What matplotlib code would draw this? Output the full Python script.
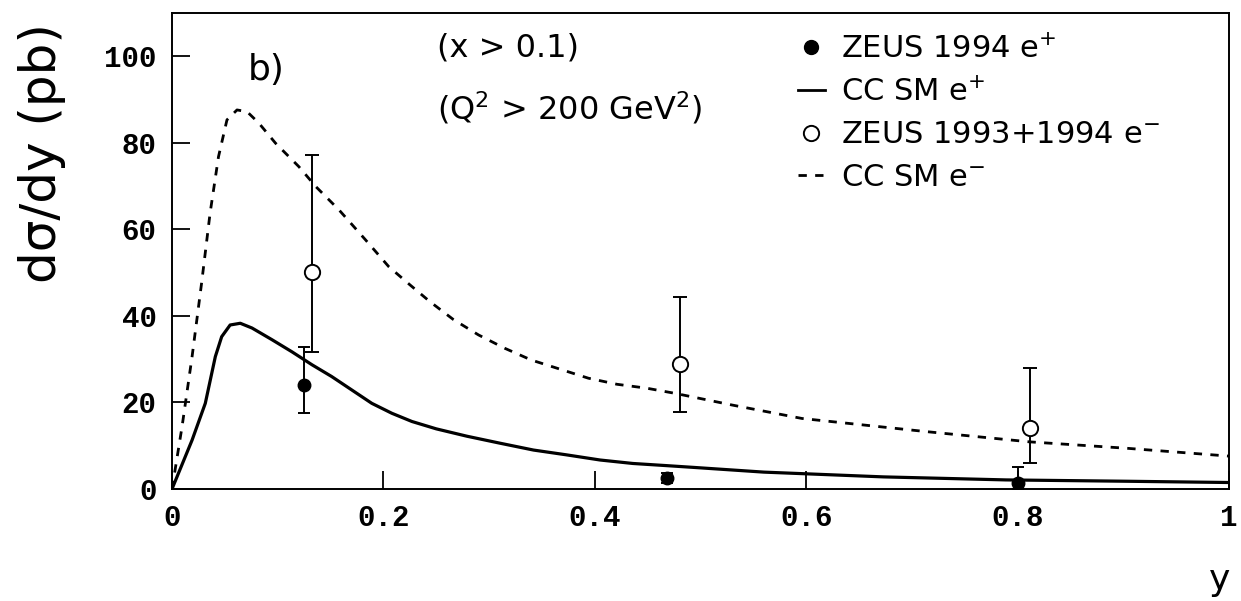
import matplotlib
matplotlib.use("Agg")
import matplotlib.pyplot as plt
from matplotlib.lines import Line2D

# SM curves
sm_pos_y = [0.0, 0.019, 0.0315, 0.041, 0.047, 0.055, 0.0646, 0.0757, 0.0946, 0.1135, 0.1325,
            0.151, 0.170, 0.189, 0.208, 0.227, 0.250, 0.279, 0.310, 0.342, 0.373, 0.405, 0.436,
            0.468, 0.493, 0.560, 0.673, 0.789, 0.90, 1.0]
sm_pos_v = [0.0, 11.3, 19.8, 30.6, 35.2, 37.9, 38.3, 37.2, 34.5, 31.7, 28.7,
            26.0, 22.9, 19.8, 17.5, 15.6, 13.9, 12.2, 10.6, 9.0, 7.9, 6.7, 5.9,
            5.4, 5.0, 3.9, 2.8, 2.1, 1.8, 1.5]

sm_neg_y = [0.0, 0.0095, 0.019, 0.028, 0.036, 0.044, 0.052, 0.0615, 0.071, 0.082, 0.098,
            0.120, 0.136, 0.158, 0.183, 0.205, 0.225, 0.244, 0.266, 0.290, 0.315, 0.340,
            0.367, 0.394, 0.421, 0.449, 0.476, 0.530, 0.596, 0.712, 0.811, 0.904, 1.0]
sm_neg_v = [0.0, 14.4, 30.6, 47.6, 63.7, 76.8, 85.3, 87.6, 87.2, 84.6, 79.9,
            74.5, 69.9, 64.5, 57.6, 51.4, 47.2, 43.3, 39.2, 35.6, 32.5, 29.8,
            27.7, 25.6, 24.2, 23.3, 22.1, 19.4, 16.3, 13.3, 10.9, 9.4, 7.6]

# ZEUS 1994 e+ data
pos_y = [0.125, 0.468, 0.80]
pos_v = [24.0, 2.6, 1.5]
pos_err_lo = [6.5, 1.2, 1.5]
pos_err_hi = [8.9, 1.2, 3.5]

# ZEUS 1993+1994 e- data
neg_y = [0.1325, 0.481, 0.812]
neg_v = [50.2, 28.9, 14.2]
neg_err_lo = [18.5, 11.2, 8.2]
neg_err_hi = [26.9, 15.4, 13.8]

xticks = [0, 0.2, 0.4, 0.6, 0.8, 1.0]
xticklabels = ["0", "0.2", "0.4", "0.6", "0.8", "1"]
yticks = [0, 20, 40, 60, 80, 100]
yticklabels = ["0", "20", "40", "60", "80", "100"]

fig = plt.figure(figsize=(12.41, 6.01), dpi=100)
ax = fig.add_axes([172/1241, 112/601, (1229-172)/1241, (489-13)/601])

ax.plot(sm_pos_y, sm_pos_v, color="black", lw=2.3, solid_joinstyle="round")
ax.plot(sm_neg_y, sm_neg_v, color="black", lw=2.0, dashes=(3, 3))

ax.errorbar(pos_y, pos_v, yerr=[pos_err_lo, pos_err_hi], fmt="o", color="black",
            ms=9, elinewidth=1.4, capsize=4, capthick=1.4)
ax.errorbar(neg_y, neg_v, yerr=[neg_err_lo, neg_err_hi], fmt="o", color="black",
            mfc="white", mec="black", mew=1.4, ms=11, elinewidth=1.4, capsize=5, capthick=1.4)

ax.set_xlim(0, 1)
ax.set_ylim(0, 110)
ax.set_xticks(xticks)
ax.set_xticklabels(xticklabels)
ax.set_yticks(yticks)
ax.set_yticklabels(yticklabels)
ax.tick_params(direction="in", length=13, width=1.3, pad=11)
for lab in ax.get_xticklabels() + ax.get_yticklabels():
    lab.set_fontfamily("Liberation Mono")
    lab.set_fontweight("bold")
    lab.set_fontsize(21)
for sp in ax.spines.values():
    sp.set_linewidth(1.4)

ax.text(0.072, 94.6, "b)", fontsize=26, va="baseline", ha="left")
ax.text(0.251, 99.9, "(x > 0.1)", fontsize=23, va="baseline", ha="left")
ax.text(0.251, 85.3, "(Q$^2$ > 200 GeV$^2$)", fontsize=23, va="baseline", ha="left")

handles = [
    Line2D([], [], ls="none", marker="o", color="black", ms=10),
    Line2D([], [], color="black", lw=2.0),
    Line2D([], [], ls="none", marker="o", mfc="white", mec="black", mew=1.4, ms=11),
    Line2D([], [], color="black", lw=2.0, dashes=(3, 3)),
]
labels = ["ZEUS 1994 e$^{+}$", "CC SM e$^{+}$", "ZEUS 1993+1994 e$^{-}$", "CC SM e$^{-}$"]
ax.legend(handles, labels, loc="upper left", bbox_to_anchor=(0.592, 0.955), frameon=False,
          fontsize=22, handlelength=0.9, handletextpad=0.5, labelspacing=0.45, borderpad=0,
          borderaxespad=0)

fig.text(42/1241, 1-153/601, "d\u03c3/dy (pb)", rotation=90, fontsize=36, ha="center", va="center")
fig.text(1220/1241, 1-580/601, "y", fontsize=26, ha="center", va="center")

fig.savefig("out.png", dpi=100)
